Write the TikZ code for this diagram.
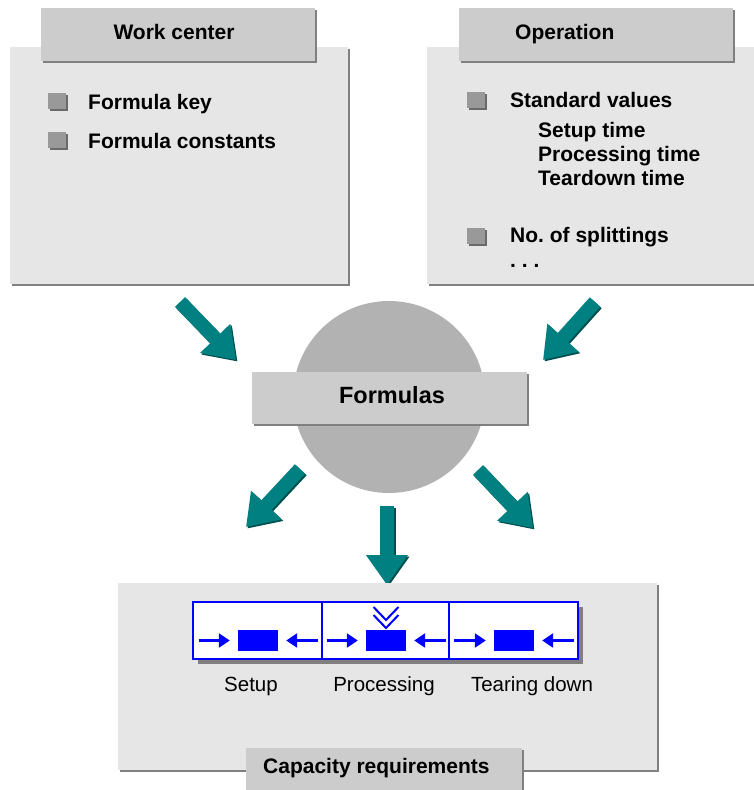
\documentclass[tikz,border=0pt]{standalone}
\usepackage{fontspec}
\setmainfont{Liberation Sans}
\usetikzlibrary{arrows.meta,shadows}
\definecolor{panelc}{HTML}{E6E6E6}
\definecolor{hdrc}{HTML}{CCCCCC}
\definecolor{shadc}{HTML}{808080}
\definecolor{circc}{HTML}{B2B2B2}
\definecolor{bulc}{HTML}{999999}
\definecolor{buls}{HTML}{6A6A6A}
\definecolor{tealA}{HTML}{008080}
\definecolor{tealD}{HTML}{004F4F}
\definecolor{blueA}{HTML}{0000FF}
\frenchspacing
\begin{document}
\begin{tikzpicture}[x=1pt,y=-1pt,
  box/.style={rectangle,inner sep=0pt,draw=none,
    drop shadow={shadow xshift=2pt,shadow yshift=-2pt,fill=shadc,opacity=1}},
  panelbox/.style={box,fill=panelc},
  hdrbox/.style={box,fill=hdrc},
  bulletbox/.style={rectangle,inner sep=0pt,fill=bulc,minimum width=18pt,minimum height=16pt,
    drop shadow={shadow xshift=2pt,shadow yshift=-2pt,fill=buls,opacity=1}},
  bt/.style={font=\fontsize{21}{25}\selectfont\bfseries,inner sep=0pt},
  nt/.style={font=\fontsize{20.5}{25}\selectfont,inner sep=0pt},
  bigarrow/.style={line width=14pt,tealA,-{Triangle[width=40pt,length=30pt]}},
  bigarrowsh/.style={line width=14pt,tealD,-{Triangle[width=40pt,length=30pt]}},
  cell/.style={rectangle,inner sep=0pt,draw=blueA,line width=1.5pt,fill=white,minimum height=57pt},
  blk/.style={rectangle,inner sep=0pt,fill=blueA,minimum width=40pt,minimum height=21pt},
  barrow/.style={blueA,line width=2.5pt,-{Triangle[width=14pt,length=11pt]}}
]
\useasboundingbox (0,0) rectangle (754,790);

% top panels
\node[panelbox,minimum width=338pt,minimum height=237pt] (wcpanel) at (179,165.5) {};
\node[hdrbox,minimum width=274pt,minimum height=53pt] (wchdr) at (178,34.5) {};
\node[bt,anchor=base] (wctxt) at (174,39) {Work center};

\node[panelbox,minimum width=333pt,minimum height=237pt] (oppanel) at (593.5,165.5) {};
\node[hdrbox,minimum width=274pt,minimum height=53pt] (ophdr) at (596,34.5) {};
\node[bt,anchor=base west] (optxt) at (515,39) {Operation};

% left bullets
\node[bulletbox] (b1) at (57,100.5) {};
\node[bt,anchor=base west] (t1) at (88,109) {Formula key};
\node[bulletbox] (b2) at (57,140) {};
\node[bt,anchor=base west] (t2) at (88,148.5) {Formula constants};

% right bullets
\node[bulletbox] (b3) at (476,100) {};
\node[bt,anchor=base west] (t3) at (510,107) {Standard values};
\node[bt,anchor=base west] (t4) at (538,137) {Setup time};
\node[bt,anchor=base west] (t5) at (538,161) {Processing time};
\node[bt,anchor=base west] (t6) at (538,185) {Teardown time};
\node[bulletbox] (b4) at (476,236) {};
\node[bt,anchor=base west] (t7) at (510,242) {No. of splittings};
\node[bt,anchor=base west] (t8) at (510,267) {. . .};

% circle and formulas
\node[circle,fill=circc,inner sep=0pt,minimum size=192pt] (circ) at (389,397) {};
\node[hdrbox,minimum width=275pt,minimum height=52pt] (form) at (389.5,398) {};
\node[font=\fontsize{23.5}{28}\selectfont\bfseries,inner sep=0pt,anchor=base] (formtxt) at (392,403) {Formulas};

% teal arrows
\coordinate (a1s) at (180,302); \coordinate (a1e) at (236,360);
\coordinate (a2s) at (595,302); \coordinate (a2e) at (543,360);
\coordinate (a3s) at (300,469); \coordinate (a3e) at (246,527);
\coordinate (a4s) at (478,470); \coordinate (a4e) at (533,528);
\coordinate (a5s) at (387,506); \coordinate (a5e) at (387,585);
\foreach \s/\e in {a1s/a1e,a2s/a2e,a3s/a3e,a4s/a4e,a5s/a5e}{
  \draw[bigarrowsh] ([shift={(1.5,1.5)}]\s) -- ([shift={(1.5,1.5)}]\e);
  \draw[bigarrow] (\s) -- (\e);
}

% bottom panel
\node[panelbox,minimum width=539pt,minimum height=187pt] (cappanel) at (387.5,676.5) {};
\fill[shadc] (198,607) rectangle (583,664);
\node[cell,minimum width=129pt] (c1) at (257.5,630.5) {};
\node[cell,minimum width=127pt] (c2) at (385.5,630.5) {};
\node[cell,minimum width=129pt] (c3) at (513.5,630.5) {};

\node[blk] (r1) at (258,640.5) {};
\node[blk] (r2) at (386,640.5) {};
\node[blk] (r3) at (514,640.5) {};

\coordinate (l1) at (199,640.5); \coordinate (e1) at (318,640.5);
\coordinate (l2) at (327,640.5); \coordinate (e2) at (446,640.5);
\coordinate (l3) at (454,640.5); \coordinate (e3) at (574,640.5);
\draw[barrow] (l1) -- ([xshift=-8pt]r1.west);
\draw[barrow] (e1) -- ([xshift=8pt]r1.east);
\draw[barrow] (l2) -- ([xshift=-8pt]r2.west);
\draw[barrow] (e2) -- ([xshift=8pt]r2.east);
\draw[barrow] (l3) -- ([xshift=-8pt]r3.west);
\draw[barrow] (e3) -- ([xshift=8pt]r3.east);

% chevrons
\draw[blueA,line width=2pt] (373.5,607) -- (386,620) -- (398.5,607);
\draw[blueA,line width=2pt] (373.5,615) -- (386,628) -- (398.5,615);

\node[nt,anchor=base] (lab1) at (251,691) {Setup};
\node[nt,anchor=base] (lab2) at (384,691) {Processing};
\node[nt,anchor=base] (lab3) at (532,691) {Tearing down};

\node[hdrbox,minimum width=276pt,minimum height=60pt] (capbox) at (384,778) {};
\node[bt,anchor=base west] (captxt) at (263,773) {Capacity requirements};
\end{tikzpicture}
\end{document}
